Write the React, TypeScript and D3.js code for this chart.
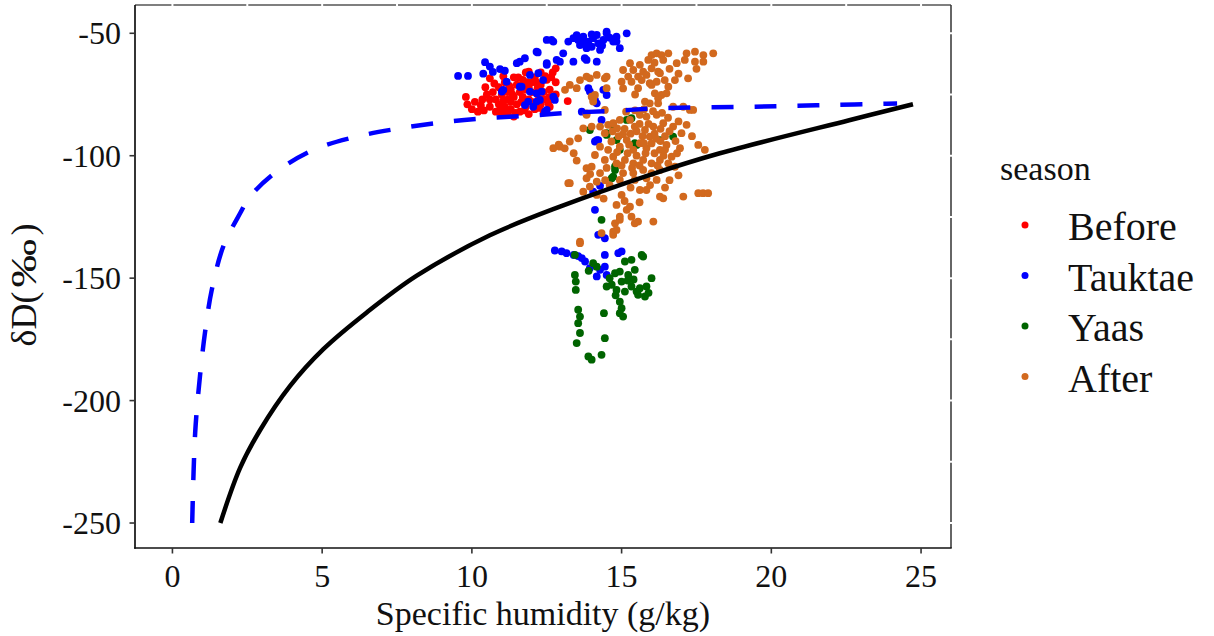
import React from "react";
import * as d3 from "d3";

const xTicks = [0, 5, 10, 15, 20, 25];
const yTicks = [-250, -200, -150, -100, -50];
const xGrid = [0, 2.5, 5, 7.5, 10, 12.5, 15, 17.5, 20, 22.5, 25];
const yGrid = [-250, -225, -200, -175, -150, -125, -100, -75, -50];

const seasons = ["Before", "Tauktae", "Yaas", "After"];
const seasonColors = ["#FF0000", "#0000FF", "#006400", "#D2691E"];

const beforePts: number[][] = [
  [9.8,-76],[9.85,-79],[10.0,-81],[10.2,-82],[10.4,-81.5],[10.1,-78],[10.6,-80],[10.8,-82],[10.9,-79],[11.0,-83],[11.1,-80],[11.2,-77],[11.3,-81],[11.4,-84],[11.5,-79],[11.6,-82],[11.7,-76],[11.8,-80],[11.9,-83],[12.0,-78],[12.1,-81],[12.2,-75],[12.3,-79],[12.4,-82],[12.5,-77],[12.6,-80],
  [10.7,-74],[10.9,-72],[11.1,-70],[11.3,-73],[11.5,-71],[11.7,-69],[11.9,-72],[12.1,-68],[12.3,-71],[12.5,-69],[12.7,-66],[12.6,-73],[12.8,-70],
  [10.8,-77],[11.0,-75],[11.2,-74],[11.4,-76],[11.6,-74],[11.8,-73],[12.0,-74],[12.2,-72],[12.4,-74],[12.6,-76],[12.8,-75],[11.9,-77],[11.3,-78],[12.1,-79],[12.3,-66],[11.8,-66],[12.0,-70],[11.4,-68],[10.6,-77],[10.5,-75],[10.6,-68.4],[11.9,-65.7],[12.8,-64.3],[11.2,-83.3],[10.3,-79.5],[13.2,-77.7],
  [10.45,-72],[10.75,-70.5],[11.05,-67.5],[11.25,-71.5],[11.55,-68],[11.85,-70],[12.15,-70],[12.45,-67.5],[12.65,-68],[10.95,-81],[11.15,-82],[11.45,-82.5],[11.75,-81.5],[12.25,-80.5],[12.55,-78.5],[11.05,-77.5],[11.35,-75],[11.65,-78],[12.35,-77],[10.35,-77]
];

const tauktaePts: number[][] = [
  [9.54,-67.4],[9.87,-67.4],[10.44,-61.8],[10.6,-63.6],[10.94,-64.6],[11.1,-65.3],[11.6,-61.6],[11.77,-60.2],[12.2,-57.8],[12.5,-62.2],[12.66,-52.7],[10.38,-66.5],[10.7,-65.8],[12.83,-60.9],[12.94,-61.6],[13.05,-58.2],[13.39,-61.6],[13.77,-60.2],[11.5,-62.2],[12.5,-62.9],[12.16,-57.5],[13.22,-53.4],[12.5,-52.7],[12.72,-53.4],
  [13.39,-52],[13.55,-52.7],[13.72,-51.4],[13.89,-53.4],[14.05,-52],[14.22,-54.1],[14.39,-52.7],[14.5,-50],[14.72,-53.4],[14.83,-51.4],[13.83,-56.1],[14.0,-55.5],[13.61,-54.8],[14.17,-50.7],[14.5,-49.3],[15.17,-50],[14.94,-56.1],[14.83,-53.4],[14.28,-56.8],[14.17,-61.6],[13.83,-60.9],[14.6,-51.8],[14.0,-50.5],[13.5,-50.8],[14.35,-55],[13.7,-54],
  [11.05,-73.1],[11.16,-69.8],[11.66,-71.8],[11.94,-73.8],[12.16,-74.5],[12.27,-77.2],[12.5,-81.3],[12.72,-75.9],[12.77,-77.2],[12.05,-80],[11.88,-77.9],[12.22,-66.3],[12.38,-69.1],[11.0,-73.8],[11.6,-71.8],[11.94,-67],[12.16,-77.9],[11.77,-79.3],[12.33,-73.8],[12.44,-82],
  [13.89,-72.4],[13.94,-73.8],[14.11,-77.2],[14.5,-75.2],[14.17,-78.6],[14.33,-85.4],[14.22,-93.6],[14.39,-73.1],[14.11,-77.9],[13.67,-82],[14.17,-93.6],[14.11,-94.2],[14.05,-114.7],[14.11,-122.1],[14.22,-132.3],[14.44,-133.7],[14.28,-112.3],
  [12.77,-138.7],[13.0,-139.1],[13.16,-139.8],[13.67,-141.8],[13.78,-143.2],[13.94,-145.9],[14.17,-149.3],[14.28,-146.6],[14.44,-145.3],[14.5,-148.7],[14.44,-140.5],[14.89,-139.8],[15.0,-139.1],[13.4,-140.5],[13.55,-141]
];

const yaasPts: number[][] = [
  [13.44,-148.7],[13.47,-151.4],[13.47,-154.8],[13.55,-162.9],[13.61,-165.7],[13.55,-168.4],[13.61,-172.4],[13.5,-176.5],[13.89,-182],[14.0,-183.3],[14.33,-181.3],[14.44,-174.5],[14.41,-164.3],[14.78,-148],[14.94,-147.3],[15.11,-143.2],[15.33,-142.5],[15.44,-146.6],[15.67,-140.5],[15.72,-141.2],[15.22,-148.7],[15.0,-151.4],[14.5,-153.4],[14.67,-152.7],[14.83,-154.8],[15.11,-155.5],[15.33,-153.4],[15.5,-155.5],[15.61,-154.1],[15.78,-157.5],[15.83,-153.4],[16.0,-150],[15.55,-156.8],[14.94,-159.6],[15.0,-162.3],[15.05,-165.7],[14.94,-164.3],[14.17,-145.3],[14.05,-143.9],[13.44,-140.5],[13.9,-147],[14.6,-150],[15.2,-151],[15.4,-150.5],[15.9,-156],[14.8,-157],
  [13.94,-89.5],[14.5,-91.5],[14.83,-93.6],[14.94,-97.6],[15.17,-85.4],[15.44,-94.9],[14.78,-105.8],[14.72,-108.5],[16.28,-93.6],[16.72,-92.2],[14.33,-126.2],[14.72,-88.1],[15.33,-84.7],[15.5,-95.6],[14.5,-90.8],[14.67,-109.2],[14.78,-104.4]
];

const afterPts: number[][] = [
  [16.0,-58.9],[16.17,-58.2],[16.33,-58.9],[16.56,-58.2],[17.17,-58.2],[17.45,-57.5],[17.73,-58.9],[18.06,-58.2],[15.89,-60.9],[16.39,-60.9],[16.84,-62.2],[17.11,-60.9],[17.45,-61.6],[17.73,-61.6],[15.28,-62.2],[15.61,-62.9],[15.05,-65],[15.39,-65],[15.72,-65.7],[16.0,-64.3],[16.22,-65.7],[15.22,-67.7],[15.55,-67.7],[15.83,-67],[15.0,-69.8],[15.33,-69.8],[15.67,-69.1],[15.94,-70.4],[16.17,-69.8],[16.44,-69.1],[16.56,-71.8],[16.78,-69.1],[17.22,-68.4],[16.28,-66.3],[15.55,-72.4],[16.0,-71.1],[16.11,-74.5],[16.33,-75.2],[16.5,-74.5],[16.22,-76.5],
  [13.94,-68.4],[14.44,-68.4],[14.5,-72.4],[14.11,-75.2],[14.05,-76.5],
  [15.78,-77.9],[15.94,-78.6],[16.22,-78.6],[16.72,-80],[17.06,-80],[17.28,-81.3],[13.83,-83.3],[14.44,-81.3],
  [13.11,-73.1],[13.27,-71.1],[13.61,-69.1],[13.83,-67.7],[14.17,-67],[14.5,-67.7],[13.5,-72.4],[14.0,-75.9],[14.05,-77.9],
  [13.83,-82.7],[14.0,-88.1],[13.72,-88.8],[14.28,-88.1],[14.55,-87.4],[14.72,-86.7],[14.94,-85.4],[15.28,-85.4],[15.61,-83.3],[15.83,-84],[16.17,-83.3],[16.39,-86.7],[16.72,-88.1],[15.44,-88.1],[15.78,-89.5],[16.06,-88.1],[14.44,-90.8],[14.66,-94.2],[14.28,-96.3],[14.55,-97.6],[14.72,-100.4],[14.94,-96.3],[15.17,-93.6],[15.39,-97.6],[15.61,-94.9],[15.83,-96.9],[15.94,-92.2],[16.28,-97.6],[16.5,-95.6],[16.67,-100.4],[17.0,-90.8],[16.95,-96.9],[17.56,-95.6],[17.78,-97.6],[17.17,-87.4],[17.39,-81.3],[12.72,-96.9],[12.94,-96.3],[13.27,-94.2],[13.55,-92.9],[14.11,-99.7],[14.44,-101.7],[14.83,-103.1],[15.11,-101.7],[15.39,-103.1],[15.72,-101.7],[16.0,-103.1],[16.28,-101.7],[16.56,-103.1],[16.78,-104.5],[13.83,-105.1],[14.0,-104.5],[14.28,-107.1],[15.05,-107.1],[15.39,-107.1],[15.72,-105.8],[16.0,-107.1],[16.28,-105.8],[13.22,-111.2],[13.83,-109.2],[14.17,-110.6],[14.94,-109.9],[15.44,-109.9],[15.83,-109.2],[16.17,-109.9],[13.72,-114.7],[13.94,-112.6],[14.17,-116],[15.61,-114],[15.83,-114],[16.28,-116.7],[16.39,-117.4],[17.06,-116.7],[17.56,-115.3],[17.72,-115.3],[17.89,-115.3],[14.83,-120.1],[15.17,-122.1],[15.28,-120.8],[14.94,-124.9],[14.78,-127.6],[14.94,-126.2],[14.72,-131],[15.33,-124.9],[15.55,-126.9],[16.06,-126.9],[15.44,-127.6],[13.61,-135.1],[13.27,-111.2],[13.61,-135.7],[14.33,-131.6],[14.72,-132.3],[14.83,-130.3],
  [15.1,-89],[15.3,-91],[15.5,-90],[15.7,-92],[15.9,-87],[16.1,-91],[16.3,-89],[16.45,-92],[16.6,-90],[15.2,-99],[15.5,-100],[15.8,-99],[16.1,-99],[16.4,-100],[15.0,-104],[15.6,-104],[16.2,-104],[14.7,-90],[14.9,-92],[15.6,-87],[16.0,-95],[16.3,-94],[16.8,-94],[14.5,-105],[15.3,-113],[14.6,-112],[15.0,-116],[16.6,-110],[16.9,-108],[13.4,-99],[13.1,-97],[12.9,-95.5],
  [15.15,-82],[15.45,-81.5],[15.75,-81],[16.05,-81.8],[16.35,-82.5],[16.55,-84.5],[14.85,-88.8],[15.05,-91.2],[15.25,-95.5],[15.75,-95],[16.15,-93],[16.45,-97.5],[16.85,-99],[14.85,-98.5],[15.35,-105],[15.95,-112],[16.45,-113],[14.4,-117.5],[15.1,-118.5],[15.6,-119],[13.5,-102],[13.95,-107.5],[14.45,-110],[16.9,-86],[17.35,-92],[16.1,-62],[16.6,-64.5],[16.9,-66.5],[17.5,-64.5],[15.45,-75],[15.05,-72.5]
];

const seriesPts = [beforePts, tauktaePts, yaasPts, afterPts];

const blueCurveX = [0.66, 0.76, 0.92, 1.09, 1.31, 1.70, 2.26, 2.59, 3.48, 4.71, 6.15, 7.6, 9.05, 10.44, 11.94, 13.37, 14.83, 16.33, 19.28, 20.78, 22.22, 23.72, 24.2];
const blueCurveY = [-250, -213, -190, -172, -155, -137, -123.5, -116.7, -106.5, -97.6, -92.2, -88.8, -86.3, -84.7, -83.6, -82.4, -81.6, -80.6, -80.0, -79.6, -79.2, -78.8, -78.7];

const blackCurveX = [1.6, 2.26, 2.93, 3.93, 5.04, 6.49, 8.16, 10.6, 12.94, 15.95, 18.28, 22.6, 24.73];
const blackCurveY = [-250, -227.5, -212, -194, -179, -164, -149, -132.5, -120.8, -107.8, -99, -85.5, -79];

const FONT = "'Liberation Serif', 'Times New Roman', serif";

export default function App() {
  const left = 135, right = 951, top = 5, bottom = 548;
  const x = d3.scaleLinear().domain([-1.25, 26.0]).range([left, right]);
  const y = d3.scaleLinear().domain([-260.2, -38.45]).range([bottom, top]);

  const mkPath = (xs: number[], ys: number[]) =>
    d3
      .line<number>()
      .x((_, i) => x(xs[i]))
      .y((_, i) => y(ys[i]))
      .curve(d3.curveCatmullRom.alpha(0.5))(xs) || "";

  const legendX = 1025;
  const legendY0 = 225;
  const legendStep = 50.5;
  const cy = (top + bottom) / 2;

  return (
    <svg
      width={1214}
      height={636}
      style={{ position: "absolute", left: 0, top: 0, background: "#fff" }}
      fontFamily={FONT}
    >
      <rect x={0} y={0} width={1214} height={636} fill="#fff" />
      <line x1={left} x2={right} y1={top} y2={top} stroke="#555" strokeWidth={1.3} />
      <line x1={right} x2={right} y1={top} y2={bottom} stroke="#333" strokeWidth={1.5} />
      {xGrid.map((v) => (
        <line key={"gx" + v} x1={x(v)} x2={x(v)} y1={top - 2} y2={bottom} stroke="#fff" strokeWidth={2} />
      ))}
      {yGrid.map((v) => (
        <line key={"gy" + v} x1={left} x2={right + 2} y1={y(v)} y2={y(v)} stroke="#fff" strokeWidth={2} />
      ))}

      {seriesPts.map((pts, si) => (
        <g key={seasons[si]} fill={seasonColors[si]}>
          {pts.map((p, i) => (
            <circle key={i} cx={x(p[0])} cy={y(p[1])} r={3.9} />
          ))}
        </g>
      ))}

      <path
        d={mkPath(blueCurveX, blueCurveY)}
        fill="none"
        stroke="#0000FF"
        strokeWidth={4.5}
        strokeDasharray="22 21"
      />
      <path d={mkPath(blackCurveX, blackCurveY)} fill="none" stroke="#000" strokeWidth={4.5} />

      <line x1={left} x2={left} y1={top} y2={bottom + 0.8} stroke="#111" strokeWidth={1.7} />
      <line x1={left - 0.8} x2={right + 0.7} y1={bottom} y2={bottom} stroke="#111" strokeWidth={1.7} />
      {yTicks.map((v) => (
        <g key={"yt" + v}>
          <line x1={left - 5.5} x2={left} y1={y(v)} y2={y(v)} stroke="#333" strokeWidth={1.6} />
          <text x={left - 14} y={y(v)} dy="0.35em" textAnchor="end" fontSize={32} fill="#111">
            {v}
          </text>
        </g>
      ))}
      {xTicks.map((v) => (
        <g key={"xt" + v}>
          <line x1={x(v)} x2={x(v)} y1={bottom} y2={bottom + 5.5} stroke="#333" strokeWidth={1.6} />
          <text x={x(v)} y={587} textAnchor="middle" fontSize={32} fill="#111">
            {v}
          </text>
        </g>
      ))}

      <text x={(left + right) / 2} y={625} textAnchor="middle" fontSize={34} fill="#111">
        Specific humidity (g/kg)
      </text>
      <g transform={`translate(36,${cy}) rotate(-90)`} fill="#111" fontSize={36}>
        <text x={-70} y={0}>δD(</text>
        <text transform="translate(-11,0) scale(1.35,1)" x={0} y={0}>‰</text>
        <text x={41} y={0}>)</text>
      </g>

      <text x={1000} y={180} fontSize={34} fill="#111">
        season
      </text>
      {seasons.map((s, i) => (
        <g key={"lg" + s}>
          <circle cx={legendX} cy={legendY0 + i * legendStep} r={3.5} fill={seasonColors[i]} />
          <text x={1068} y={legendY0 + i * legendStep + 15} fontSize={40} fill="#111">
            {s}
          </text>
        </g>
      ))}
    </svg>
  );
}
